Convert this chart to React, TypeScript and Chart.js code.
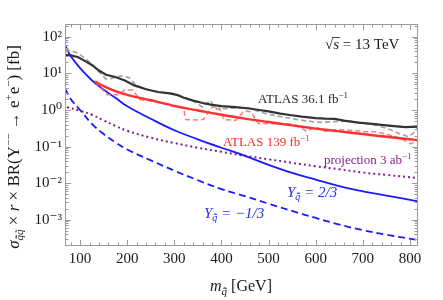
import React, { useEffect, useRef } from "react";
import { Chart, registerables } from "chart.js";

Chart.register(...registerables);

// ---------- data ----------
const massTheory = [68, 80, 100, 125, 150, 175, 200, 250, 300, 350, 400, 450, 500, 550, 600, 650, 700, 750, 817];
const sigmaYTwoThirds = [60, 30, 14, 6.5, 3.6, 2.15, 1.26, 0.575, 0.28, 0.158, 0.093, 0.056, 0.0316, 0.019, 0.0126, 0.0083, 0.006, 0.0046, 0.0032];
const sigmaYMinusOneThird = [3.9, 2.0, 1.0, 0.42, 0.22, 0.13, 0.083, 0.042, 0.022, 0.012, 0.0069, 0.0044, 0.00275, 0.00174, 0.00112, 0.00074, 0.00052, 0.00039, 0.00028];

const massProjection = [72, 100, 125, 150, 175, 200, 250, 300, 350, 400, 450, 500, 550, 600, 650, 700, 750, 817];
const sigmaProjection = [1.2, 0.95, 0.74, 0.52, 0.37, 0.27, 0.175, 0.125, 0.093, 0.072, 0.056, 0.045, 0.036, 0.029, 0.024, 0.0195, 0.0168, 0.0138];

const massAtlas36Obs = [68, 80, 95, 110, 125, 140, 155, 175, 195, 215, 240, 265, 290, 305, 320, 340, 360, 380, 400, 430, 460, 480, 500, 525, 545, 570, 600, 620, 640, 660, 690, 720, 760, 790, 817];
const sigmaAtlas36Obs = [32, 31, 28, 22, 17, 12, 9.2, 8.0, 6.4, 4.7, 3.7, 3.1, 2.85, 2.6, 2.15, 1.8, 1.55, 1.38, 1.27, 1.2, 1.1, 1.0, 0.92, 0.8, 0.73, 0.66, 0.6, 0.58, 0.57, 0.51, 0.45, 0.42, 0.37, 0.34, 0.35];

const massAtlas36Exp = [68, 80, 97, 110, 125, 140, 155, 165, 180, 193, 205, 217, 230, 246, 270, 300, 320, 340, 360, 376, 390, 410, 440, 460, 490, 520, 550, 580, 610, 640, 670, 700, 730, 755, 780, 795, 805, 817];
const sigmaAtlas36Exp = [45, 42, 35, 26, 18, 11, 7.0, 7.2, 8.2, 8.6, 7.5, 5.0, 4.2, 3.5, 3.1, 2.8, 2.3, 1.75, 1.2, 1.85, 1.05, 1.1, 1.15, 1.1, 0.82, 0.68, 0.58, 0.5, 0.46, 0.48, 0.5, 0.44, 0.38, 0.3, 0.22, 0.19, 0.22, 0.33];

const massAtlas139Obs = [132, 150, 175, 200, 250, 300, 350, 400, 450, 500, 550, 600, 650, 700, 750, 817];
const sigmaAtlas139Obs = [6.0, 4.5, 3.3, 2.6, 1.85, 1.3, 0.97, 0.74, 0.58, 0.47, 0.38, 0.31, 0.26, 0.22, 0.185, 0.15];

const massAtlas139Exp = [132, 145, 158, 180, 195, 212, 227, 250, 280, 305, 320, 324, 350, 362, 380, 395, 405, 430, 448, 462, 478, 500, 540, 560, 581, 600, 620, 640, 670, 700, 730, 760, 780, 800, 817];
const sigmaAtlas139Exp = [5.9, 3.8, 2.6, 2.6, 3.5, 3.5, 1.9, 1.8, 1.5, 1.2, 1.1, 0.55, 0.53, 0.56, 1.2, 1.2, 0.55, 0.52, 0.95, 0.9, 0.43, 0.42, 0.42, 0.38, 0.26, 0.34, 0.26, 0.29, 0.28, 0.26, 0.25, 0.2, 0.17, 0.12, 0.14];

const xTickValues = [100, 200, 300, 400, 500, 600, 700, 800];
const yTickExponents = [-3, -2, -1, 0, 1, 2];

const X_MIN = 68;
const X_MAX = 817;
const Y_MIN = 1.92e-4;
const Y_MAX = 224;

const SERIF = '"Liberation Serif", "DejaVu Serif", serif';

const SUP: Record<string, string> = {
  "-": "\u207B", "0": "\u2070", "1": "\u00B9", "2": "\u00B2", "3": "\u00B3",
  "4": "\u2074", "5": "\u2075", "6": "\u2076", "7": "\u2077", "8": "\u2078", "9": "\u2079",
};

type Seg = { t: string; size: number; italic?: boolean; dy?: number };

function drawRich(
  ctx: CanvasRenderingContext2D,
  segs: Seg[],
  x: number,
  y: number,
  align: "left" | "center" | "right",
  color: string
) {
  ctx.save();
  ctx.fillStyle = color;
  ctx.textBaseline = "alphabetic";
  ctx.textAlign = "left";
  const f = (s: Seg) => `${s.italic ? "italic " : ""}${s.size}px ${SERIF}`;
  let w = 0;
  for (const s of segs) {
    ctx.font = f(s);
    w += ctx.measureText(s.t).width;
  }
  let cx = align === "left" ? x : align === "center" ? x - w / 2 : x - w;
  const pos: number[][] = [];
  for (const s of segs) {
    ctx.font = f(s);
    const sw = ctx.measureText(s.t).width;
    ctx.fillText(s.t, cx, y + (s.dy || 0));
    pos.push([cx, sw]);
    cx += sw;
  }
  ctx.restore();
  return pos;
}

const frameAndText = {
  id: "frameAndText",
  afterDatasetsDraw(chart: any) {
    const { ctx, chartArea } = chart;
    const { left, right, top, bottom } = chartArea;
    const xs = chart.scales.x;
    const ys = chart.scales.y;
    ctx.save();
    ctx.strokeStyle = "#9a9a9a";
    ctx.lineWidth = 1;
    ctx.strokeRect(left + 0.5, top + 0.5, right - left - 1, bottom - top - 1);
    ctx.beginPath();
    for (let m = 20; m <= 820; m += 20) {
      if (m < X_MIN || m > X_MAX) continue;
      const px = Math.round(xs.getPixelForValue(m)) + 0.5;
      const len = m % 100 === 0 ? 6 : 3.5;
      ctx.moveTo(px, bottom);
      ctx.lineTo(px, bottom - len);
      ctx.moveTo(px, top);
      ctx.lineTo(px, top + len);
    }
    for (let e = -4; e <= 2; e++) {
      for (let k = 1; k <= 9; k++) {
        const v = k * Math.pow(10, e);
        if (v < Y_MIN || v > Y_MAX) continue;
        const py = Math.round(ys.getPixelForValue(v)) + 0.5;
        const len = k === 1 ? 6 : 3.5;
        ctx.moveTo(left, py);
        ctx.lineTo(left + len, py);
        ctx.moveTo(right, py);
        ctx.lineTo(right - len, py);
      }
    }
    ctx.stroke();
    ctx.restore();
  },
  afterDraw(chart: any) {
    const { ctx } = chart;
    const dark = "#1a1a1a";
    const p = drawRich(
      ctx,
      [
        { t: "\u221A", size: 15 },
        { t: "s", size: 15, italic: true },
        { t: " = 13 TeV", size: 15 },
      ],
      325,
      48.5,
      "left",
      dark
    );
    ctx.save();
    ctx.strokeStyle = dark;
    ctx.lineWidth = 0.8;
    ctx.beginPath();
    ctx.moveTo(p[1][0] - 1, 37.5);
    ctx.lineTo(p[1][0] + p[1][1] + 1, 37.5);
    ctx.stroke();
    ctx.restore();

    drawRich(ctx, [{ t: "ATLAS 36.1 fb", size: 13 }, { t: "\u22121", size: 9, dy: -5 }], 258, 103, "left", "#262626");
    drawRich(ctx, [{ t: "ATLAS 139 fb", size: 13 }, { t: "\u22121", size: 9, dy: -5 }], 223, 145.5, "left", "#ff2a2a");
    drawRich(ctx, [{ t: "projection 3 ab", size: 13 }, { t: "\u22121", size: 9, dy: -5 }], 324, 164, "left", "#8a1f8f");
    drawRich(
      ctx,
      [
        { t: "Y", size: 15, italic: true },
        { t: "q\u0303\u0304", size: 10, italic: true, dy: 3 },
        { t: " = 2/3", size: 15, italic: true },
      ],
      287,
      197,
      "left",
      "#1f2fe6"
    );
    drawRich(
      ctx,
      [
        { t: "Y", size: 15, italic: true },
        { t: "q\u0303\u0304", size: 10, italic: true, dy: 3 },
        { t: " = \u22121/3", size: 15, italic: true },
      ],
      204,
      217.5,
      "left",
      "#1f2fe6"
    );

    drawRich(
      ctx,
      [
        { t: "m", size: 16, italic: true },
        { t: "q\u0303\u0304", size: 11, italic: true, dy: 4 },
        { t: " [GeV]", size: 16 },
      ],
      241,
      291,
      "center",
      dark
    );

    ctx.save();
    ctx.translate(19, 147);
    ctx.rotate(-Math.PI / 2);
    drawRich(
      ctx,
      [
        { t: "\u03C3", size: 17, italic: true },
        { t: "q\u0303\u0304q\u0303", size: 11, italic: true, dy: 4 },
        { t: " \u00D7 ", size: 17 },
        { t: "r", size: 17, italic: true },
        { t: " \u00D7 BR(\u03A5", size: 17 },
        { t: "\u2212\u2212", size: 11, dy: -7 },
        { t: " \u2192 e", size: 17 },
        { t: "+", size: 11, dy: -7 },
        { t: "e", size: 17 },
        { t: "\u2212", size: 11, dy: -7 },
        { t: ") [fb]", size: 17 },
      ],
      0,
      0,
      "center",
      dark
    );
    ctx.restore();
  },
};

function pts(xs: number[], ys: number[]) {
  return xs.map((x, i) => ({ x, y: ys[i] }));
}

export default function App() {
  const ref = useRef<HTMLCanvasElement | null>(null);
  useEffect(() => {
    if (!ref.current) return;
    const chart = new Chart(ref.current, {
      type: "line",
      data: {
        datasets: [
          {
            label: "ATLAS 139 fb-1 observed",
            data: pts(massAtlas139Obs, sigmaAtlas139Obs),
            borderColor: "#ff3030",
            borderWidth: 2.4,
            tension: 0.3,
          },
          {
            label: "ATLAS 36.1 fb-1 observed",
            data: pts(massAtlas36Obs, sigmaAtlas36Obs),
            borderColor: "#333333",
            borderWidth: 2.2,
            tension: 0,
          },
          {
            label: "ATLAS 139 fb-1 expected",
            data: pts(massAtlas139Exp, sigmaAtlas139Exp),
            borderColor: "#ff7d7d",
            borderWidth: 1.5,
            borderDash: [5, 3],
            tension: 0,
          },
          {
            label: "ATLAS 36.1 fb-1 expected",
            data: pts(massAtlas36Exp, sigmaAtlas36Exp),
            borderColor: "#a0a0a0",
            borderWidth: 1.6,
            borderDash: [5, 3],
            tension: 0,
          },
          {
            label: "Y = 2/3",
            data: pts(massTheory, sigmaYTwoThirds),
            borderColor: "#1a1aff",
            borderWidth: 1.8,
            tension: 0.4,
          },
          {
            label: "Y = -1/3",
            data: pts(massTheory, sigmaYMinusOneThird),
            borderColor: "#1a1aff",
            borderWidth: 1.8,
            borderDash: [7, 4],
            tension: 0.4,
          },
          {
            label: "projection 3 ab-1",
            data: pts(massProjection, sigmaProjection),
            borderColor: "#8a1a8f",
            borderWidth: 2,
            borderDash: [2, 3],
            tension: 0.4,
          },
        ],
      },
      options: {
        animation: false,
        responsive: false,
        elements: { point: { radius: 0 }, line: { fill: false } },
        layout: { padding: { top: 24, right: 25, left: 0, bottom: 0 } },
        plugins: { legend: { display: false }, tooltip: { enabled: false } },
        scales: {
          x: {
            type: "linear",
            min: X_MIN,
            max: X_MAX,
            afterBuildTicks: (s: any) => {
              s.ticks = xTickValues.map((v) => ({ value: v }));
            },
            afterFit: (s: any) => {
              s.height = 54;
            },
            ticks: {
              autoSkip: false,
              maxRotation: 0,
              padding: 4,
              color: "#1a1a1a",
              font: { family: SERIF, size: 15 },
            },
            grid: { display: false, drawTicks: false },
            border: { display: false },
          },
          y: {
            type: "logarithmic",
            min: Y_MIN,
            max: Y_MAX,
            afterBuildTicks: (s: any) => {
              s.ticks = yTickExponents.map((e) => ({ value: Math.pow(10, e) }));
            },
            afterFit: (s: any) => {
              s.width = 65;
            },
            ticks: {
              padding: 3,
              color: "#1a1a1a",
              font: { family: SERIF, size: 15 },
              callback: (v: any) => {
                const e = Math.round(Math.log10(Number(v)));
                return "10" + String(e).split("").map((c) => SUP[c] || c).join("");
              },
            },
            grid: { display: false, drawTicks: false },
            border: { display: false },
          },
        },
      },
      plugins: [frameAndText],
    });
    return () => chart.destroy();
  }, []);
  return (
    <div style={{ position: "absolute", left: 0, top: 0, width: 443, height: 300 }}>
      <canvas ref={ref} width={443} height={300} style={{ display: "block" }} />
    </div>
  );
}
